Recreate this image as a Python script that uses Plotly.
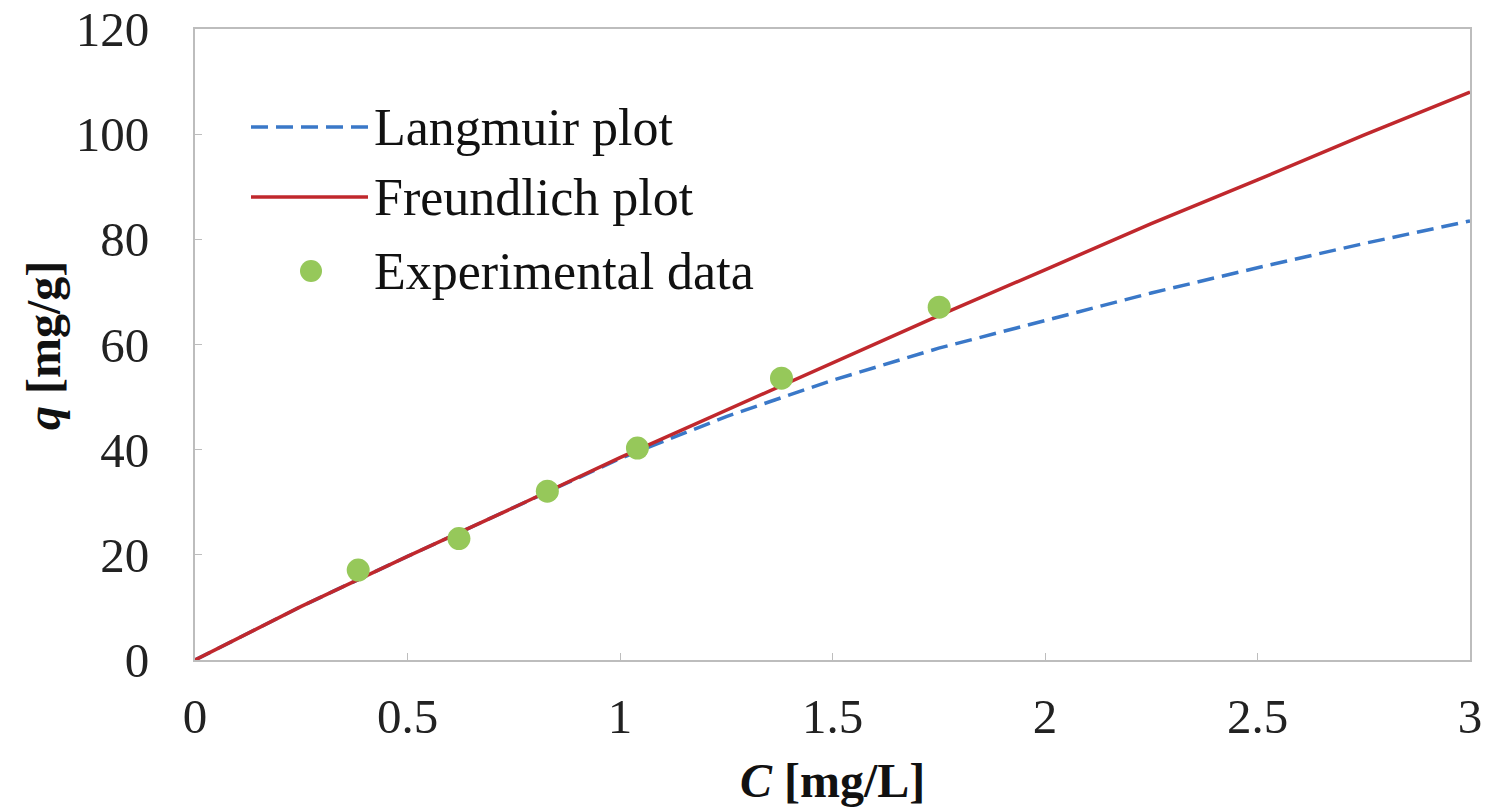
import plotly.graph_objects as go

# ---- data ----
curve_C = [0, 0.25, 0.5, 0.75, 1.0, 1.25, 1.5, 1.75, 2.0, 2.25, 2.5, 2.75, 3.0]
langmuir_q = [0, 10.2, 19.7, 29.0, 38.3, 46.3, 53.2, 59.3, 64.6, 69.8, 74.6, 79.2, 83.5]
freundlich_q = [0, 10.2, 19.7, 29.0, 38.5, 47.5, 56.6, 65.5, 74.2, 83.0, 91.3, 99.8, 108.0]
exp_C = [0.384, 0.621, 0.829, 1.041, 1.380, 1.751]
exp_q = [17.1, 23.1, 32.1, 40.3, 53.6, 67.1]

x_ticks = [0, 0.5, 1, 1.5, 2, 2.5, 3]
x_ticklabels = ["0", "0.5", "1", "1.5", "2", "2.5", "3"]
y_ticks = [0, 20, 40, 60, 80, 100, 120]

legend_labels = ["Langmuir plot", "Freundlich plot", "Experimental data"]
x_title = "<b><i>C</i> [mg/L]</b>"
y_title = "<b><i>q</i> [mg/g]</b>"

BLUE = "#3a78c8"
RED = "#c0282d"
GREEN = "#96c85a"
FONT = "Liberation Serif"
DASH = "17px,8px"

fig = go.Figure()
fig.add_trace(go.Scatter(x=curve_C, y=langmuir_q, mode="lines", name=legend_labels[0],
                         line=dict(color=BLUE, width=3.5, dash=DASH), showlegend=False))
fig.add_trace(go.Scatter(x=curve_C, y=freundlich_q, mode="lines", name=legend_labels[1],
                         line=dict(color=RED, width=3.5), showlegend=False))
fig.add_trace(go.Scatter(x=exp_C, y=exp_q, mode="markers", name=legend_labels[2],
                         marker=dict(color=GREEN, size=23, line=dict(width=0)), showlegend=False))

# ---- layout in page pixels (body margin removed by post_script) ----
W, H = 1485, 811
plot_left, plot_right, plot_top, plot_bottom = 195, 1470, 29, 660
L, R, T, B = plot_left, W - plot_right, plot_top, H - plot_bottom
pw, ph = plot_right - plot_left, plot_bottom - plot_top

def px(x):
    return (x - plot_left) / pw

def py(y):
    return (plot_bottom - y) / ph

shapes = []
shapes.append(dict(type="line", xref="paper", yref="paper", x0=px(251), x1=px(368), y0=py(127), y1=py(127),
                   line=dict(color=BLUE, width=3.5, dash=DASH)))
shapes.append(dict(type="line", xref="paper", yref="paper", x0=px(251), x1=px(368), y0=py(197), y1=py(197),
                   line=dict(color=RED, width=3.5)))
shapes.append(dict(type="circle", xref="paper", yref="paper", x0=px(300), x1=px(322), y0=py(260), y1=py(282),
                   fillcolor=GREEN, line=dict(width=0)))
annotations = []
for lab, yy in zip(legend_labels, [127, 197, 271]):
    annotations.append(dict(text=lab, xref="paper", yref="paper", x=px(372), y=py(yy),
                            xanchor="left", yanchor="middle", showarrow=False,
                            font=dict(family=FONT, size=52, color="#111111")))
# axis titles
annotations.append(dict(text=x_title, xref="paper", yref="paper", x=px(832), y=py(780),
                        xanchor="center", yanchor="middle", showarrow=False,
                        font=dict(family=FONT, size=48, color="#111111")))
annotations.append(dict(text=y_title, xref="paper", yref="paper", x=px(44), y=py(346),
                        xanchor="center", yanchor="middle", showarrow=False, textangle=-90,
                        font=dict(family=FONT, size=48, color="#111111")))

fig.update_layout(
    width=W, height=H,
    margin=dict(l=L, r=R, t=T, b=B, autoexpand=False),
    paper_bgcolor="white", plot_bgcolor="white",
    shapes=shapes, annotations=annotations,
    font=dict(family=FONT, color="#222222"),
)
fig.update_xaxes(range=[0, 3], tickvals=x_ticks, ticktext=x_ticklabels, automargin=False,
                 ticklabeloverflow="allow",
                 showgrid=False, zeroline=False, showline=True, mirror=True,
                 linecolor="#bdbdbd", linewidth=2, ticks="inside", ticklen=7, tickcolor="#bdbdbd",
                 tickfont=dict(family=FONT, size=49, color="#222222"), ticklabelstandoff=12)
fig.update_yaxes(range=[0, 120], tickvals=y_ticks, automargin=False,
                 ticklabeloverflow="allow",
                 showgrid=False, zeroline=False, showline=True, mirror=True,
                 linecolor="#bdbdbd", linewidth=2, ticks="inside", ticklen=7, tickcolor="#bdbdbd",
                 tickfont=dict(family=FONT, size=49, color="#222222"), ticklabelstandoff=34)

fig.write_html("out.html", config={"displayModeBar": False},
               post_script="document.body.style.margin='0px';document.body.style.overflow='hidden';")
